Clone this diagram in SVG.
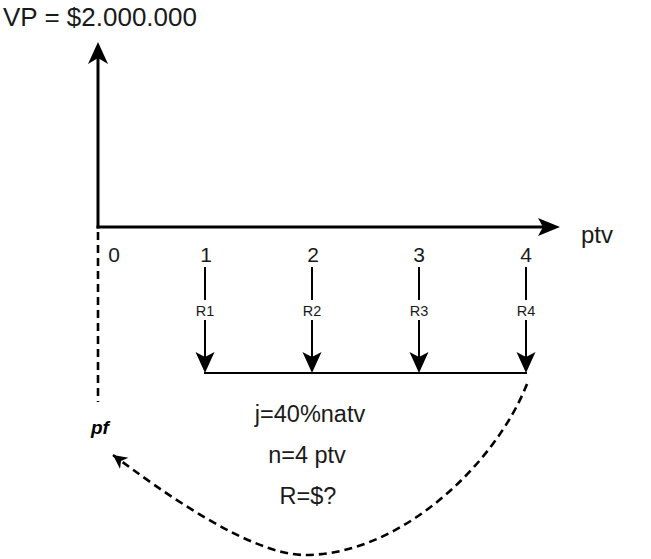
<svg xmlns="http://www.w3.org/2000/svg" width="651" height="559" viewBox="0 0 651 559">
<style>
.t{font-family:"Liberation Sans",Arial,sans-serif;fill:#1a1a1a}
.big{font-size:26px}
.tick{font-size:21px;text-anchor:middle}
.rl{font-size:14.5px;text-anchor:middle}
.info{font-size:23.5px;text-anchor:middle}
.pf{font-family:"Liberation Sans",Arial,sans-serif;font-size:19px;font-weight:bold;font-style:italic;fill:#000}
.axis{stroke:#000;stroke-width:3;fill:none}
.pay{stroke:#000;stroke-width:2;fill:none}
.dash{stroke:#000;stroke-width:2.6;fill:none;stroke-dasharray:8 5}
.head{fill:#000}
</style>
<defs>
<marker id="curveHead" markerUnits="userSpaceOnUse" markerWidth="20" markerHeight="20" refX="14" refY="7" orient="auto" viewBox="0 0 20 14">
<path d="M14 7 L0 0 L4 7 L0 14 Z" fill="#000"/>
</marker>
</defs>
<g id="vp-label"><text class="t big" x="3" y="26">VP = $2.000.000</text></g>
<g id="ptv-label"><text class="t" x="581" y="243" font-size="24">ptv</text></g>
<g id="ticks">
<text class="t tick" x="114" y="262">0</text>
<text class="t tick" x="206" y="262">1</text>
<text class="t tick" x="313" y="262">2</text>
<text class="t tick" x="419" y="262">3</text>
<text class="t tick" x="526" y="262">4</text>
</g>
<g id="pf-label"><text class="pf" x="91" y="434">pf</text></g>
<g id="info">
<text class="t info" x="310" y="422">j=40%natv</text>
<text class="t info" x="307" y="463">n=4 ptv</text>
<text class="t info" x="308" y="504">R=$?</text>
</g>
<g id="connectors">
<line class="axis" x1="98" y1="228.5" x2="98" y2="58"/>
<polygon class="head" points="98,42 88,64 98,58 108,64"/>
<line class="axis" x1="96.5" y1="227" x2="545" y2="227"/>
<polygon class="head" points="560,227 538,218 543,227 538,236"/>
<line class="dash" x1="98" y1="232" x2="98" y2="402"/>
<g id="payments">
<line class="pay" x1="205" y1="267" x2="205" y2="358"/>
<polygon class="head" points="205,373 195.5,352 205,357 214.5,352"/>
<line class="pay" x1="312" y1="267" x2="312" y2="358"/>
<polygon class="head" points="312,373 302.5,352 312,357 321.5,352"/>
<line class="pay" x1="419" y1="267" x2="419" y2="358"/>
<polygon class="head" points="419,373 409.5,352 419,357 428.5,352"/>
<line class="pay" x1="526" y1="267" x2="526" y2="358"/>
<polygon class="head" points="526,373 516.5,352 526,357 535.5,352"/>
<line class="pay" x1="204" y1="373" x2="527" y2="373"/>
</g>
<g id="payment-labels">
<rect x="192" y="300" width="26" height="20" fill="#fff"/>
<text class="t rl" x="205" y="316">R1</text>
<rect x="299" y="300" width="26" height="20" fill="#fff"/>
<text class="t rl" x="312" y="316">R2</text>
<rect x="406" y="300" width="26" height="20" fill="#fff"/>
<text class="t rl" x="419" y="316">R3</text>
<rect x="513" y="300" width="26" height="20" fill="#fff"/>
<text class="t rl" x="526" y="316">R4</text>
</g>
<path class="dash" d="M527 384 C495 465 400 555 305 555 C250 555 160 490 113 455" marker-end="url(#curveHead)"/>
</g>
</svg>
